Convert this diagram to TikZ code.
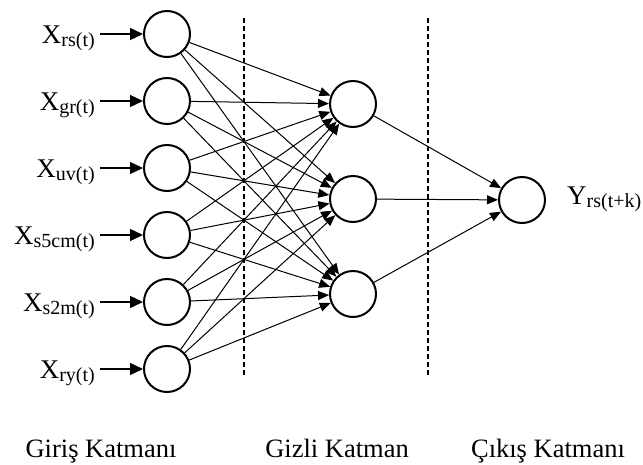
\documentclass[tikz,border=0pt]{standalone}
\usepackage{fontspec}
\setmainfont{Liberation Serif}
\usetikzlibrary{arrows.meta}
\tikzset{
  neuron/.style={circle,draw,line width=2pt,minimum size=46pt,inner sep=0pt},
  inarrow/.style={line width=1.3pt,-{Triangle[length=13pt,width=12pt]}},
  conn/.style={line width=1pt,-{Triangle[length=11pt,width=9pt]}},
  sep/.style={line width=1.1pt,dash pattern=on 5pt off 3pt},
  xlab/.style={anchor=base east,inner sep=0pt},
  laylab/.style={anchor=base,inner sep=0pt,font=\fontsize{26.5}{30}\selectfont}
}
\newcommand{\xl}[1]{\fontsize{27}{30}\selectfont X\raisebox{-3pt}{\fontsize{20}{22}\selectfont #1}}
\begin{document}
\begin{tikzpicture}[x=1pt,y=-1pt]
\useasboundingbox (0,0) rectangle (643,464);
% separators
\coordinate (d1a) at (244,18); \coordinate (d1b) at (244,377);
\coordinate (d2a) at (428,18); \coordinate (d2b) at (428,377);
\draw[sep] (d1a) -- (d1b);
\draw[sep] (d2a) -- (d2b);
% input layer
\foreach \i/\y/\s in {1/34/rs(t),2/101/gr(t),3/168/uv(t),4/235/s5cm(t),5/302/s2m(t),6/369/ry(t)}{
  \node[neuron] (i\i) at (167,\y) {};
  \node[xlab] (x\i) at (95,\y+9.5) {\xl{\s}};
  \coordinate (s\i) at (100,\y);
  \draw[inarrow] (s\i) -- (i\i);
}
% hidden layer
\node[neuron] (h1) at (353,104) {};
\node[neuron] (h2) at (353,199) {};
\node[neuron] (h3) at (353,294) {};
% output
\node[neuron] (o) at (522,200) {};
\node[anchor=base west,inner sep=0pt] (y) at (567,204) {\fontsize{27}{30}\selectfont Y\raisebox{-3pt}{\fontsize{20}{22}\selectfont rs(t+k)}};
% connections
\foreach \i in {1,...,6}{
  \foreach \j in {1,2,3}{
    \draw[conn] (i\i) -- (h\j);
  }
}
\foreach \j in {1,2,3}{
  \draw[conn] (h\j) -- (o);
}
% layer labels
\node[laylab] (l1) at (101,457) {Giriş Katmanı};
\node[laylab] (l2) at (337,457) {Gizli Katman};
\node[laylab] (l3) at (548,457) {Çıkış Katmanı};
\end{tikzpicture}
\end{document}
